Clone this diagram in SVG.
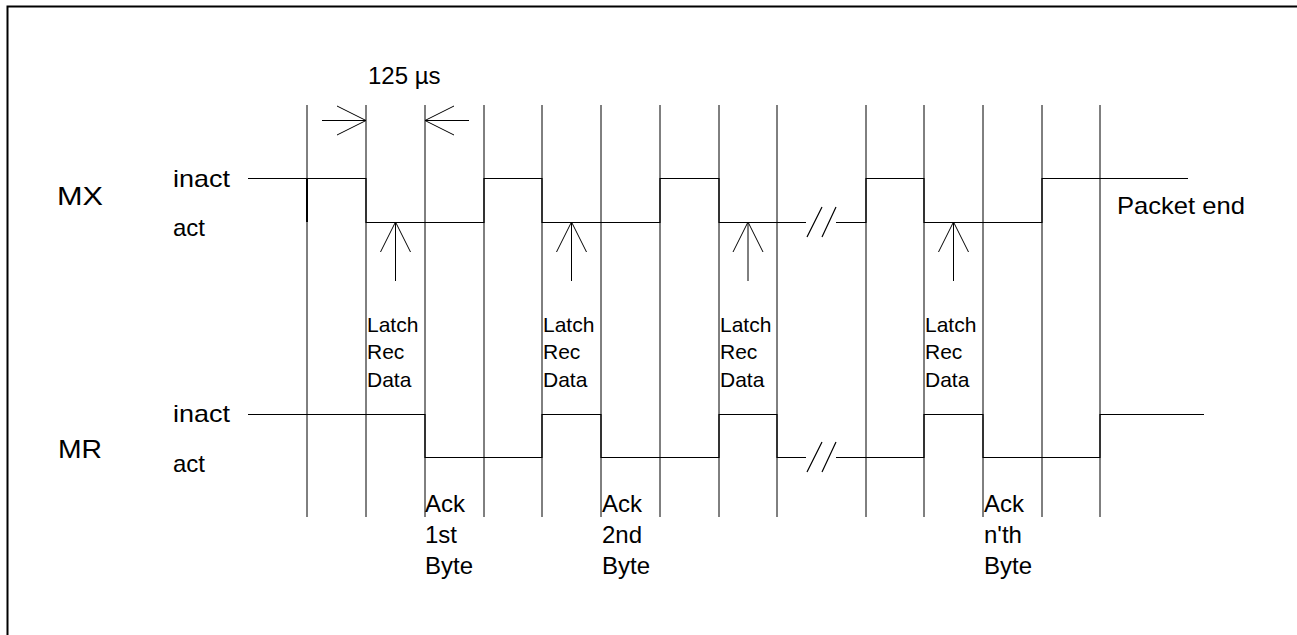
<svg xmlns="http://www.w3.org/2000/svg" width="1297" height="635" viewBox="0 0 1297 635">
<style>
.t{font-family:"Liberation Sans",Arial,sans-serif;fill:#000}
.g{stroke:#000;stroke-width:1;fill:none}
.w{stroke:#000;stroke-width:1.2;fill:none}
.a{stroke:#000;stroke-width:1;fill:none}
</style>
<rect width="1297" height="635" fill="#fff"/>
<g id="frame"><path d="M7.5,635 V6.5 H1297" stroke="#000" stroke-width="2" fill="none"/></g>
<g id="grid" class="g">
<path d="M307,105V517 M366,105V517 M425,105V517 M484,105V517 M542,105V517 M601,105V517 M660,105V517 M719,105V517 M777,105V517 M866,105V517 M924,105V517 M983,105V517 M1042,105V517 M1100,105V517"/>
</g>
<g id="connectors">
<g id="mx-wave" class="w">
<path d="M248,178.5 H366 V222.5 H484 V178.5 H542 V222.5 H660 V178.5 H719 V222.5 H806"/>
<path d="M807,237 L822,207 M822,237 L836,207"/>
<path d="M836,222.5 H866 V178.5 H924 V222.5 H1042 V178.5 H1188"/>
<path d="M307,178 V222" stroke-width="2"/>
</g>
<g id="mr-wave" class="w">
<path d="M248,414.5 H425 V457.5 H542 V414.5 H601 V457.5 H719 V414.5 H777 V457.5 H806"/>
<path d="M807,472 L822,442 M822,472 L836,442"/>
<path d="M836,457.5 H924 V414.5 H983 V457.5 H1100 V414.5 H1204"/>
</g>
<g id="latch-arrows" class="a">
<path d="M395.5,222 V281 M380.5,252 L395.5,222 L410.5,252"/>
<path d="M571.5,222 V281 M556.5,252 L571.5,222 L586.5,252"/>
<path d="M748,222 V281 M733,252 L748,222 L763,252"/>
<path d="M953.5,222 V281 M938.5,252 L953.5,222 L968.5,252"/>
</g>
<g id="period-arrows" class="a">
<path d="M322,120.5 H366 M337,106 L366,120.5 L337,135"/>
<path d="M469,120.5 H425 M454,106 L425,120.5 L454,135"/>
</g>
</g>
<g id="period-label"><text class="t" x="368" y="84" font-size="24">125 µs</text></g>
<g id="mx-labels">
<text class="t" x="57" y="205" font-size="25" textLength="46" lengthAdjust="spacingAndGlyphs">MX</text>
<text class="t" x="173" y="187" font-size="24" textLength="57" lengthAdjust="spacingAndGlyphs">inact</text>
<text class="t" x="173" y="236" font-size="24">act</text>
</g>
<g id="mr-labels">
<text class="t" x="58" y="458" font-size="25" textLength="44" lengthAdjust="spacingAndGlyphs">MR</text>
<text class="t" x="173" y="422" font-size="24" textLength="57" lengthAdjust="spacingAndGlyphs">inact</text>
<text class="t" x="173" y="472" font-size="24">act</text>
</g>
<g id="packet-end"><text class="t" x="1117" y="214" font-size="24" textLength="128" lengthAdjust="spacingAndGlyphs">Packet end</text></g>
<g id="latch-1"><text class="t" font-size="21"><tspan x="367" y="332">Latch</tspan><tspan x="367" y="359">Rec</tspan><tspan x="367" y="387">Data</tspan></text></g>
<g id="latch-2"><text class="t" font-size="21"><tspan x="543" y="332">Latch</tspan><tspan x="543" y="359">Rec</tspan><tspan x="543" y="387">Data</tspan></text></g>
<g id="latch-3"><text class="t" font-size="21"><tspan x="720" y="332">Latch</tspan><tspan x="720" y="359">Rec</tspan><tspan x="720" y="387">Data</tspan></text></g>
<g id="latch-4"><text class="t" font-size="21"><tspan x="925" y="332">Latch</tspan><tspan x="925" y="359">Rec</tspan><tspan x="925" y="387">Data</tspan></text></g>
<g id="ack-1"><text class="t" font-size="24"><tspan x="425" y="512">Ack</tspan><tspan x="425" y="543">1st</tspan><tspan x="425" y="574">Byte</tspan></text></g>
<g id="ack-2"><text class="t" font-size="24"><tspan x="602" y="512">Ack</tspan><tspan x="602" y="543">2nd</tspan><tspan x="602" y="574">Byte</tspan></text></g>
<g id="ack-n"><text class="t" font-size="24"><tspan x="984" y="512">Ack</tspan><tspan x="984" y="543">n'th</tspan><tspan x="984" y="574">Byte</tspan></text></g>
</svg>
